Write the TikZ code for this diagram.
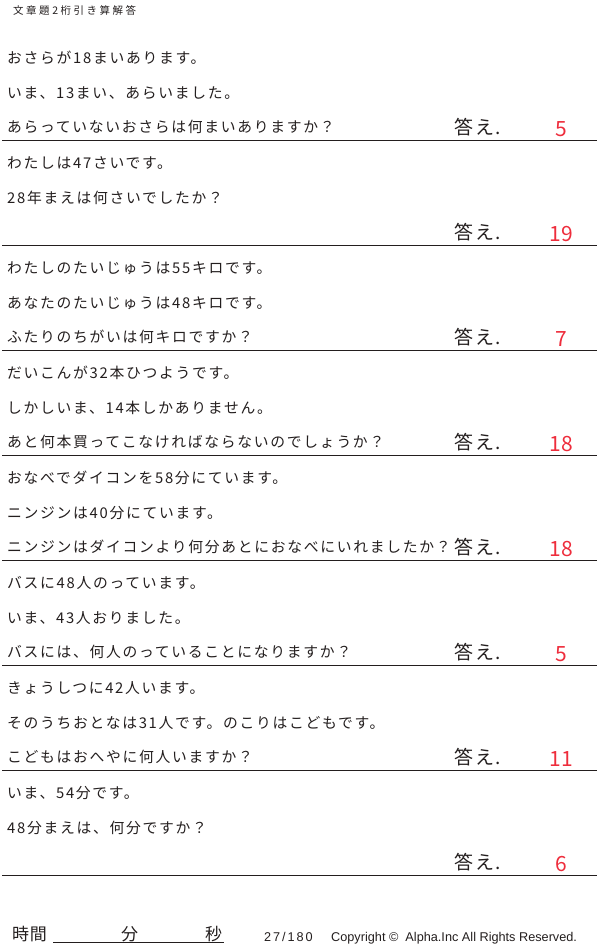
\documentclass[tikz,border=0pt]{standalone}
\usepackage{fontspec}
\setmainfont{Noto Sans CJK JP}
\newfontfamily\jpq[LetterSpace=11.5]{Noto Sans CJK JP}
\newfontfamily\jpa[LetterSpace=10]{Noto Sans CJK JP}
\newfontfamily\jph[LetterSpace=24]{Noto Sans CJK JP}
\newfontfamily\jpf[LetterSpace=4]{Noto Sans CJK JP}
\newfontfamily\lat{Liberation Sans}
\newfontfamily\latsp[LetterSpace=15]{Liberation Sans}
\definecolor{ink}{RGB}{35,30,30}
\definecolor{ansred}{RGB}{238,45,60}
\tikzset{
  qtext/.style={anchor=base west, inner sep=0pt, font=\jpq\fontsize{14.8}{16}\selectfont, text=ink},
  anslabel/.style={anchor=base west, inner sep=0pt, font=\jpa\fontsize{19}{20}\selectfont, text=ink},
  ansnum/.style={anchor=base, inner sep=0pt, font=\fontsize{21}{22}\selectfont, text=ansred},
  seprule/.style={line width=1.5pt, draw=ink},
  foottext/.style={anchor=base west, inner sep=0pt, font=\jpf\fontsize{17}{18}\selectfont, text=ink},
}
\begin{document}
\begin{tikzpicture}[x=1pt,y=-1pt]
\useasboundingbox (0,0) rectangle (600,949);
\node[anchor=base west, inner sep=0pt, font=\jph\fontsize{10.5}{12}\selectfont, text=ink] (title) at (13,15) {文章題2桁引き算解答};
\foreach \k/\a/\b/\c/\n in {
 0/おさらが18まいあります。/いま、13まい、あらいました。/あらっていないおさらは何まいありますか？/5,
 1/わたしは47さいです。/28年まえは何さいでしたか？/{}/19,
 2/わたしのたいじゅうは55キロです。/あなたのたいじゅうは48キロです。/ふたりのちがいは何キロですか？/7,
 3/だいこんが32本ひつようです。/しかしいま、14本しかありません。/あと何本買ってこなければならないのでしょうか？/18,
 4/おなべでダイコンを58分にています。/ニンジンは40分にています。/ニンジンはダイコンより何分あとにおなべにいれましたか？/18,
 5/バスに48人のっています。/いま、43人おりました。/バスには、何人のっていることになりますか？/5,
 6/きょうしつに42人います。/そのうちおとなは31人です。のこりはこどもです。/こどもはおへやに何人いますか？/11,
 7/いま、54分です。/48分まえは、何分ですか？/{}/6}
{
  \pgfmathsetmacro{\s}{140.7+105*\k}
  \node[qtext] (qa\k) at (7,\s-77.4) {\a};
  \node[qtext] (qb\k) at (7,\s-42.4) {\b};
  \node[qtext] (qc\k) at (7,\s-8.4) {\c};
  \node[anslabel] (al\k) at (454,\s-5.8) {答え.};
  \node[ansnum] (an\k) at (561,\s-4) {\n};
  \draw[seprule] (2,\s) -- (597,\s);
}
\node[foottext] (time) at (12,940) {時間};
\node[foottext] (fen) at (121,940) {分};
\node[foottext] (byou) at (205,940) {秒};
\draw[line width=1pt, draw=ink] (53,942) -- (224,942);
\node[anchor=base west, inner sep=0pt, font=\latsp\fontsize{12.7}{14}\selectfont, text=ink] (page) at (264,941.5) {27/180};
\node[anchor=base west, inner sep=0pt, font=\lat\fontsize{12.7}{14}\selectfont, text=ink] (copy) at (331,941.5) {Copyright ©\ \ Alpha.Inc All Rights Reserved.};
\end{tikzpicture}
\end{document}
